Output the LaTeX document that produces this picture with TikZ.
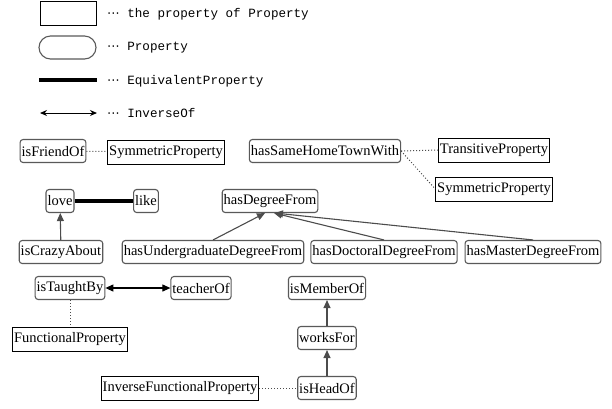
\documentclass[tikz,border=0pt]{standalone}
\usepackage{fontspec}
\setmainfont{Liberation Serif}
\newfontfamily\legendfont{Liberation Mono}
\newfontfamily\dotsfont{DejaVu Sans}
\usetikzlibrary{arrows.meta,positioning}
\newcommand{\lgdots}{{\dotsfont ⋯}\ }
\begin{document}
\begin{tikzpicture}[x=1pt,y=-1pt,
	prop/.style={draw=black!65,rounded corners=3pt,line width=1.1pt,inner xsep=1.5pt,inner ysep=0pt,minimum height=23pt,font=\fontsize{14.5}{16}\selectfont},
	propof/.style={draw=black,line width=0.9pt,inner xsep=1.5pt,inner ysep=0pt,minimum height=24pt,font=\fontsize{14.5}{16}\selectfont},
	subprop/.style={draw=black!70,line width=1.1pt,-{Triangle[length=8pt,width=7pt]}},
	typeof/.style={draw=black!70,line width=1pt,dotted},
	legend/.style={font=\legendfont\fontsize{12.6}{14}\selectfont,anchor=west,inner sep=0pt}]
	\useasboundingbox (0,0) rectangle (612,408);
	% legend
	\node[propof,minimum width=56pt] (lgrect) at (68.5,13.5) {};
	\node[prop,rounded corners=11.5pt,minimum width=57pt] (lground) at (67.5,47.5) {};
	\coordinate (lgeqa) at (39,80);
	\coordinate (lgeqb) at (97,80);
	\coordinate (lginva) at (40,113);
	\coordinate (lginvb) at (97,113);
	\draw[line width=4pt] (lgeqa) -- (lgeqb);
	\draw[line width=1pt,{Stealth[length=7pt,width=6pt]}-{Stealth[length=7pt,width=6pt]}] (lginva) -- (lginvb);
	\node[legend] (lgt1) at (107,14) {\lgdots the property of Property};
	\node[legend] (lgt2) at (107,48) {\lgdots Property};
	\node[legend] (lgt3) at (107,81) {\lgdots EquivalentProperty};
	\node[legend] (lgt4) at (107,113) {\lgdots InverseOf};
	% symmetric / transitive
	\node[prop] (friend) at (53,151) {isFriendOf};
	\node[propof] (sym1) at (166,152) {SymmetricProperty};
	\node[prop] (hometown) at (325,151) {hasSameHomeTownWith};
	\node[propof] (trans) at (494,150) {TransitiveProperty};
	\node[propof] (sym2) at (494,189) {SymmetricProperty};
	\draw[typeof] (friend) -- (sym1);
	\draw[typeof] (hometown.east) -- (trans.west);
	\draw[typeof] (hometown.east) -- (sym2.west);
	% equivalent / subproperty
	\node[prop] (love) at (60,201) {love};
	\node[prop] (like) at (146,201) {like};
	\node[prop] (crazy) at (61,252) {isCrazyAbout};
	\draw[line width=4.5pt] (love) -- (like);
	\draw[subprop] (crazy) -- (love);
	\node[prop] (degree) at (270,201) {hasDegreeFrom};
	\node[prop] (under) at (213,252) {hasUndergraduateDegreeFrom};
	\node[prop] (doctor) at (384,252) {hasDoctoralDegreeFrom};
	\node[prop] (master) at (533,252) {hasMasterDegreeFrom};
	\draw[subprop] (under.north) -- ([xshift=-5pt]degree.south);
	\draw[subprop] (doctor.north) -- ([xshift=4pt]degree.south);
	\draw[subprop] (master.north) -- ([xshift=5pt]degree.south);
	% inverse / functional
	\node[prop] (taught) at (70,288) {isTaughtBy};
	\node[prop] (teacher) at (201,288) {teacherOf};
	\node[propof] (func) at (70,339) {FunctionalProperty};
	\draw[line width=1.1pt,{Triangle[length=8pt,width=7pt]}-{Triangle[length=8pt,width=7pt]}] (taught) -- (teacher);
	\draw[typeof] (taught) -- (func);
	\node[prop] (member) at (327,288) {isMemberOf};
	\node[prop] (works) at (327,338) {worksFor};
	\node[prop] (head) at (327,388) {isHeadOf};
	\node[propof] (invfunc) at (180,388) {InverseFunctionalProperty};
	\draw[subprop] (head) -- (works);
	\draw[subprop] (works) -- (member);
	\draw[typeof] (invfunc) -- (head);
\end{tikzpicture}
\end{document}
